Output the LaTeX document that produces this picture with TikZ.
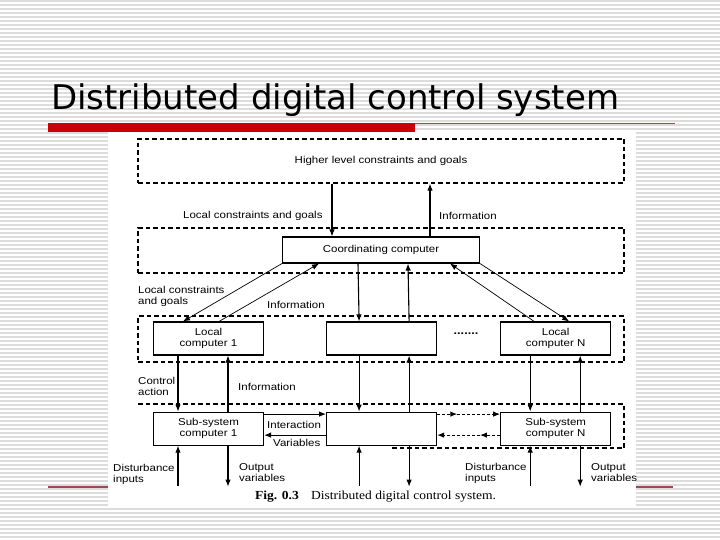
\documentclass[tikz,border=0pt]{standalone}
\usepackage{fontspec}
\setmainfont{Liberation Sans}
\newfontfamily\titlefont{DejaVu Sans}
\newfontfamily\diagfont{Liberation Sans}[FakeStretch=1.15]
\newfontfamily\capfont{Liberation Serif}[FakeStretch=1.1]
\usetikzlibrary{arrows.meta,positioning,decorations.markings}
\definecolor{stripegray}{HTML}{DCDCDC}
\definecolor{slidered}{HTML}{CC0000}
\definecolor{rulered}{HTML}{9E4A4A}

\begin{document}
\begin{tikzpicture}[x=1pt,y=-1pt,
  band/.style={draw,dash pattern=on 4.5pt off 3pt,line width=1.2pt,minimum width=486pt,inner sep=0pt,font=\diagfont\fontsize{10}{11}\selectfont},
  unit/.style={draw,line width=1.1pt,minimum width=110pt,minimum height=33pt,align=center,inner sep=0pt,font=\diagfont\fontsize{10}{11}\selectfont},
  lbl/.style={anchor=west,align=left,inner sep=0pt,font=\diagfont\fontsize{10}{11}\selectfont},
  arrow/.style={-{Latex[length=7pt,width=5.5pt]},line width=1.1pt},
  link/.style={-{Latex[length=7pt,width=5.5pt]},line width=0.7pt},
  trunk/.style={-{Latex[length=7pt,width=5.5pt]},line width=1.1pt,dash pattern=on 3pt off 2pt,
    postaction={decorate,decoration={markings,mark=at position 0.32 with {\arrow{Latex[length=7pt,width=5.5pt]}}}}}
]
% slide background
\useasboundingbox (0,0) rectangle (720,540);
\fill[white] (0,0) rectangle (720,540);
\foreach \y in {1,5,...,537}
  \draw[stripegray,line width=1.3pt] (0,\y) -- (720,\y);
\node[anchor=base west,inner sep=0pt,font=\titlefont\fontsize{34}{34}\selectfont] (title) at (51,110) {Distributed digital control system};
\fill[slidered] (48,123) rectangle (415,132);
\draw[rulered,line width=1pt] (415,123.5) -- (675,123.5);
\draw[rulered,line width=1.2pt] (48,487) -- (108,487);
\draw[rulered,line width=1.2pt] (636,487) -- (673,487);
\fill[white] (108,132) rectangle (636,508);

% levels
\node[band,minimum height=44pt] (higher) at (381,161) {Higher level constraints and goals};
\node[band,minimum height=45pt] (coordband) at (381,250.5) {};
\node[band,minimum height=46pt] (localband) at (381,339) {};
\draw[line width=1.2pt,dash pattern=on 4.5pt off 3pt] (138,404) -- (624,404) -- (624,448) -- (391,448);

% computers
\node[unit,minimum width=197pt,minimum height=26pt] (coord) at (381,250) {Coordinating computer};
\node[unit] (local1) at (208.5,338.5) {Local\\computer 1};
\node[unit,right=62pt of local1] (localmid) {};
\node[unit,right=63pt of localmid] (localN) {Local\\computer N};
\node[font=\diagfont\bfseries\fontsize{11}{11}\selectfont] (dots) at (466,334) {.......};
\node[unit,below=56pt of local1] (sub1) {Sub-system\\computer 1};
\node[unit,below=56pt of localmid] (submid) {};
\node[unit,below=56pt of localN] (subN) {Sub-system\\computer N};

% top connections
\draw[arrow] ([xshift=-49pt]higher.south) -- ([xshift=-49pt]coord.north);
\draw[arrow] ([xshift=49pt]coord.north) -- ([xshift=49pt]higher.south);
\node[lbl] (goalsA) at (183,216) {Local constraints and goals};
\node[lbl] (infoA) at (439,216) {Information};

% coordinating computer to local computers
\draw[link] (coord.south west) -- ([xshift=-25.5pt]local1.north);
\draw[link] ([xshift=10.5pt]local1.north) -- ([xshift=-62pt]coord.south);
\draw[link] ([xshift=-21.5pt]localN.north) -- ([xshift=69pt]coord.south);
\draw[link] (coord.south east) -- ([xshift=13.5pt]localN.north);
\draw[arrow] ([xshift=-23pt]coord.south) -- ([xshift=-22.5pt]localmid.north);
\draw[arrow] ([xshift=27.5pt]localmid.north) -- ([xshift=27pt]coord.south);
\node[lbl] (goalsB) at (138,296.5) {Local constraints\\and goals};
\node[lbl] (infoB) at (267,305) {Information};

% local computers to sub-system computers
\foreach \n/\dn/\up in {1/-30.5/19.5,mid/-22.5/27.5,N/-25.5/24.5}{
  \draw[arrow] ([xshift=\dn pt]local\n.south) -- ([xshift=\dn pt]sub\n.north);
  \draw[arrow] ([xshift=\up pt]sub\n.north) -- ([xshift=\up pt]local\n.south);
}
\node[lbl] (action) at (138,386.5) {Control\\action};
\node[lbl] (infoC) at (238,387) {Information};

% interaction between sub-systems
\draw[arrow] ([yshift=14.5pt]sub1.east) -- ([yshift=14.5pt]submid.west);
\draw[arrow] ([yshift=-6.5pt]submid.west) -- ([yshift=-6.5pt]sub1.east);
\draw[trunk] ([yshift=14.5pt]submid.east) -- ([yshift=14.5pt]subN.west);
\draw[trunk] ([yshift=-6.5pt]subN.west) -- ([yshift=-6.5pt]submid.east);
\node[lbl] (interact) at (267,425) {Interaction};
\node[lbl] (vars) at (273,443) {Variables};

% plant inputs and outputs
\foreach \n/\dn/\up in {1/-30.5/19.5,mid/-22.5/27.5,N/-25.5/24.5}{
  \coordinate (dist\n) at ([xshift=\dn pt,yshift=-40pt]sub\n.south);
  \coordinate (out\n) at ([xshift=\up pt,yshift=-41pt]sub\n.south);
  \draw[arrow] (dist\n) -- ([xshift=\dn pt]sub\n.south);
  \draw[arrow] ([xshift=\up pt]sub\n.south) -- (out\n);
}
\node[lbl] (distA) at (113,474) {Disturbance\\inputs};
\node[lbl] (outA) at (239,473) {Output\\variables};
\node[lbl] (distB) at (465,473) {Disturbance\\inputs};
\node[lbl] (outB) at (591,473) {Output\\variables};

\node[anchor=west,inner sep=0pt,font=\capfont\fontsize{12.3}{13}\selectfont] (caption) at (255,497) {\textbf{Fig. 0.3}\quad Distributed digital control system.};
\end{tikzpicture}
\end{document}
